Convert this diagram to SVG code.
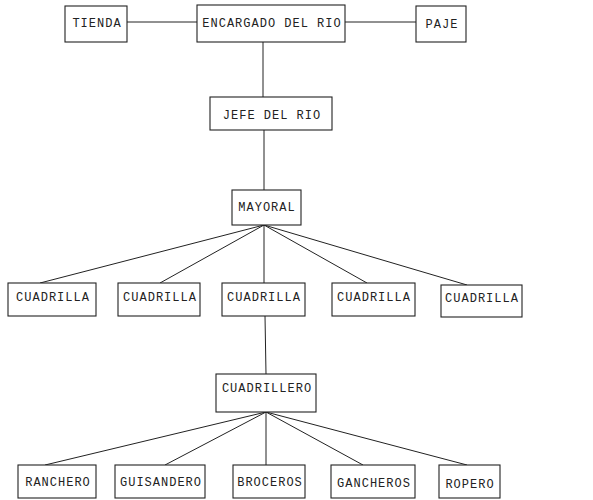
<svg xmlns="http://www.w3.org/2000/svg" width="593" height="500" viewBox="0 0 593 500">
<style>
rect{fill:#fff;stroke:#222;stroke-width:1.1}
text{font-family:"Liberation Mono","DejaVu Sans Mono",monospace;font-size:12px;letter-spacing:1px;fill:#222;text-anchor:middle}
#edges line{stroke:#222;stroke-width:1}
</style>
<rect x="0" y="0" width="593" height="500" style="fill:#fff;stroke:none"/>
<g id="edges">
<line x1="127" y1="22" x2="197" y2="22"/>
<line x1="345" y1="22" x2="416" y2="22"/>
<line x1="263" y1="42" x2="263" y2="97"/>
<line x1="264" y1="130" x2="264" y2="190"/>
<line x1="264" y1="225" x2="40" y2="283"/>
<line x1="264" y1="225" x2="160" y2="283"/>
<line x1="264" y1="225" x2="264" y2="283"/>
<line x1="264" y1="225" x2="367" y2="283"/>
<line x1="264" y1="225" x2="467" y2="285"/>
<line x1="265" y1="316" x2="266" y2="374"/>
<line x1="266" y1="412" x2="45" y2="465"/>
<line x1="266" y1="412" x2="165" y2="465"/>
<line x1="266" y1="412" x2="266" y2="465"/>
<line x1="266" y1="412" x2="363" y2="465"/>
<line x1="266" y1="412" x2="467" y2="465"/>
</g>
<g id="tienda"><rect x="65" y="6" width="62" height="36"/><text x="97" y="27">TIENDA</text></g>
<g id="encargado"><rect x="197" y="5" width="148" height="37"/><text x="272" y="27">ENCARGADO DEL RIO</text></g>
<g id="paje"><rect x="416" y="6" width="50" height="36"/><text x="442" y="28">PAJE</text></g>
<g id="jefe"><rect x="210" y="97" width="122" height="33"/><text x="272" y="119">JEFE DEL RIO</text></g>
<g id="mayoral"><rect x="232" y="190" width="69" height="35"/><text x="267" y="211">MAYORAL</text></g>
<g id="cuadrilla1"><rect x="8" y="283" width="88" height="33"/><text x="53" y="301">CUADRILLA</text></g>
<g id="cuadrilla2"><rect x="118" y="283" width="82" height="33"/><text x="160" y="301">CUADRILLA</text></g>
<g id="cuadrilla3"><rect x="222" y="283" width="83" height="33"/><text x="264" y="301">CUADRILLA</text></g>
<g id="cuadrilla4"><rect x="332" y="283" width="83" height="33"/><text x="374" y="301">CUADRILLA</text></g>
<g id="cuadrilla5"><rect x="441" y="285" width="81" height="32"/><text x="482" y="302">CUADRILLA</text></g>
<g id="cuadrillero"><rect x="216" y="374" width="100" height="38"/><text x="267" y="392">CUADRILLERO</text></g>
<g id="ranchero"><rect x="18" y="465" width="78" height="33"/><text x="58" y="486">RANCHERO</text></g>
<g id="guisandero"><rect x="115" y="465" width="90" height="33"/><text x="161" y="486">GUISANDERO</text></g>
<g id="broceros"><rect x="233" y="465" width="72" height="33"/><text x="270" y="486">BROCEROS</text></g>
<g id="gancheros"><rect x="331" y="465" width="84" height="33"/><text x="374" y="487">GANCHEROS</text></g>
<g id="ropero"><rect x="439" y="465" width="61" height="33"/><text x="470" y="488">ROPERO</text></g>
</svg>
